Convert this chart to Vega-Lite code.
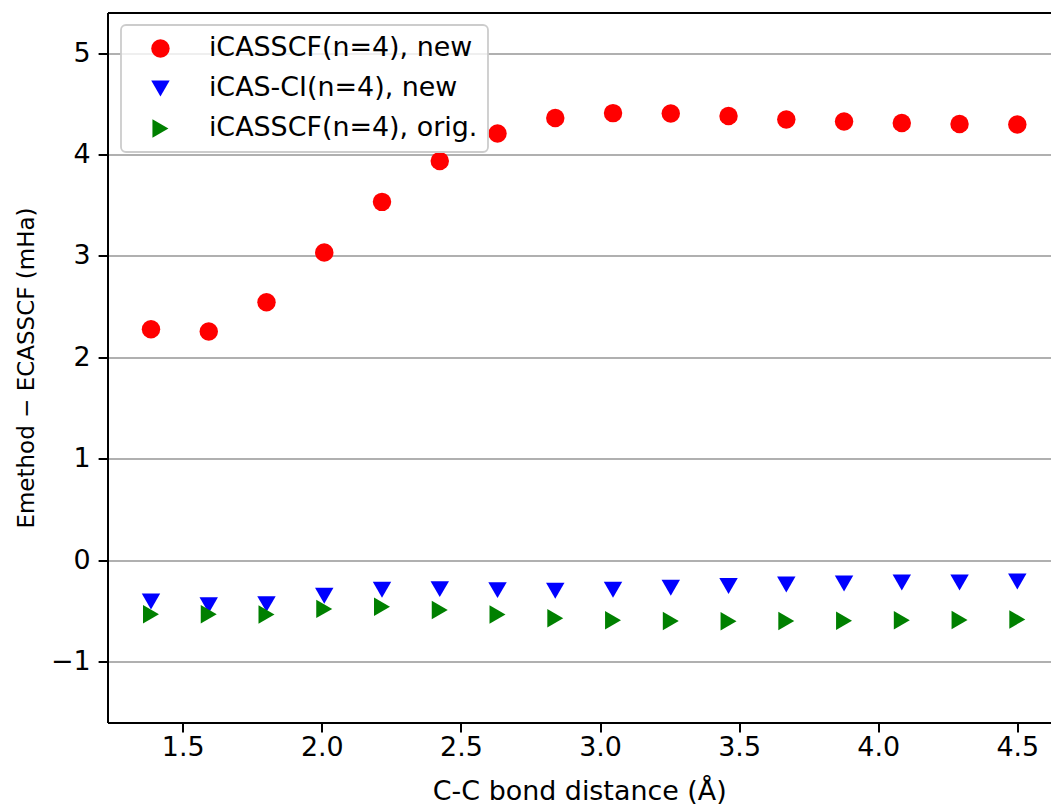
{
  "$schema": "https://vega.github.io/schema/vega-lite/v6.json",
  "width": 943.5,
  "height": 710,
  "autosize": {"type": "none"},
  "padding": {"left": 107.5, "top": 12.5, "right": 0, "bottom": 85.5},
  "background": "white",
  "config": {
    "view": {"stroke": null},
    "font": "DejaVu Sans",
    "axis": {
      "labelFont": "DejaVu Sans",
      "titleFont": "DejaVu Sans",
      "labelFontSize": 26.9,
      "titleFontSize": 26.9,
      "titleFontWeight": "normal",
      "labelColor": "black",
      "titleColor": "black",
      "domainColor": "black",
      "domainWidth": 2,
      "tickColor": "black",
      "tickWidth": 2,
      "tickSize": 9.4
    }
  },
  "data": {
    "values": [
      {"d": 1.386, "e": 2.278, "s": "iCASSCF(n=4), new"},
      {"d": 1.5936, "e": 2.254, "s": "iCASSCF(n=4), new"},
      {"d": 1.8012, "e": 2.544, "s": "iCASSCF(n=4), new"},
      {"d": 2.0088, "e": 3.033, "s": "iCASSCF(n=4), new"},
      {"d": 2.2164, "e": 3.533, "s": "iCASSCF(n=4), new"},
      {"d": 2.424, "e": 3.935, "s": "iCASSCF(n=4), new"},
      {"d": 2.6316, "e": 4.207, "s": "iCASSCF(n=4), new"},
      {"d": 2.8392, "e": 4.359, "s": "iCASSCF(n=4), new"},
      {"d": 3.0468, "e": 4.408, "s": "iCASSCF(n=4), new"},
      {"d": 3.2544, "e": 4.404, "s": "iCASSCF(n=4), new"},
      {"d": 3.462, "e": 4.379, "s": "iCASSCF(n=4), new"},
      {"d": 3.6696, "e": 4.345, "s": "iCASSCF(n=4), new"},
      {"d": 3.8772, "e": 4.325, "s": "iCASSCF(n=4), new"},
      {"d": 4.0848, "e": 4.31, "s": "iCASSCF(n=4), new"},
      {"d": 4.2924, "e": 4.3, "s": "iCASSCF(n=4), new"},
      {"d": 4.5, "e": 4.296, "s": "iCASSCF(n=4), new"},
      {"d": 1.386, "e": -0.406, "s": "iCAS-CI(n=4), new"},
      {"d": 1.5936, "e": -0.443, "s": "iCAS-CI(n=4), new"},
      {"d": 1.8012, "e": -0.433, "s": "iCAS-CI(n=4), new"},
      {"d": 2.0088, "e": -0.35, "s": "iCAS-CI(n=4), new"},
      {"d": 2.2164, "e": -0.291, "s": "iCAS-CI(n=4), new"},
      {"d": 2.424, "e": -0.285, "s": "iCAS-CI(n=4), new"},
      {"d": 2.6316, "e": -0.295, "s": "iCAS-CI(n=4), new"},
      {"d": 2.8392, "e": -0.301, "s": "iCAS-CI(n=4), new"},
      {"d": 3.0468, "e": -0.291, "s": "iCAS-CI(n=4), new"},
      {"d": 3.2544, "e": -0.271, "s": "iCAS-CI(n=4), new"},
      {"d": 3.462, "e": -0.255, "s": "iCAS-CI(n=4), new"},
      {"d": 3.6696, "e": -0.239, "s": "iCAS-CI(n=4), new"},
      {"d": 3.8772, "e": -0.229, "s": "iCAS-CI(n=4), new"},
      {"d": 4.0848, "e": -0.219, "s": "iCAS-CI(n=4), new"},
      {"d": 4.2924, "e": -0.219, "s": "iCAS-CI(n=4), new"},
      {"d": 4.5, "e": -0.209, "s": "iCAS-CI(n=4), new"},
      {"d": 1.386, "e": -0.532, "s": "iCASSCF(n=4), orig."},
      {"d": 1.5936, "e": -0.533, "s": "iCASSCF(n=4), orig."},
      {"d": 1.8012, "e": -0.536, "s": "iCASSCF(n=4), orig."},
      {"d": 2.0088, "e": -0.48, "s": "iCASSCF(n=4), orig."},
      {"d": 2.2164, "e": -0.458, "s": "iCASSCF(n=4), orig."},
      {"d": 2.424, "e": -0.49, "s": "iCASSCF(n=4), orig."},
      {"d": 2.6316, "e": -0.536, "s": "iCASSCF(n=4), orig."},
      {"d": 2.8392, "e": -0.572, "s": "iCASSCF(n=4), orig."},
      {"d": 3.0468, "e": -0.591, "s": "iCASSCF(n=4), orig."},
      {"d": 3.2544, "e": -0.599, "s": "iCASSCF(n=4), orig."},
      {"d": 3.462, "e": -0.601, "s": "iCASSCF(n=4), orig."},
      {"d": 3.6696, "e": -0.599, "s": "iCASSCF(n=4), orig."},
      {"d": 3.8772, "e": -0.597, "s": "iCASSCF(n=4), orig."},
      {"d": 4.0848, "e": -0.592, "s": "iCASSCF(n=4), orig."},
      {"d": 4.2924, "e": -0.589, "s": "iCASSCF(n=4), orig."},
      {"d": 4.5, "e": -0.584, "s": "iCASSCF(n=4), orig."}
    ]
  },
  "layer": [
    {
      "mark": {"type": "point", "filled": true, "opacity": 1, "size": 340, "strokeWidth": 0},
      "encoding": {
        "x": {
          "field": "d", "type": "quantitative",
          "scale": {"domain": [1.2297, 4.6211], "nice": false, "zero": false},
          "axis": {
            "orient": "bottom",
            "values": [1.5, 2.0, 2.5, 3.0, 3.5, 4.0, 4.5],
            "format": ".1f",
            "grid": false,
            "labelPadding": 3,
            "title": "C-C bond distance (Å)",
            "titlePadding": 18
          }
        },
        "y": {
          "field": "e", "type": "quantitative",
          "scale": {"domain": [-1.6, 5.4], "nice": false, "zero": false},
          "axis": {
            "values": [-1, 0, 1, 2, 3, 4, 5],
            "format": "d",
            "grid": true,
            "gridColor": "#b0b0b0",
            "gridWidth": 1.8,
            "labelPadding": 8,
            "title": "Emethod − ECASSCF (mHa)",
            "titleFontSize": 23,
            "titlePadding": 12
          }
        },
        "color": {
          "field": "s", "type": "nominal",
          "scale": {
            "domain": ["iCASSCF(n=4), new", "iCAS-CI(n=4), new", "iCASSCF(n=4), orig."],
            "range": ["#ff0000", "#0000ff", "#008000"]
          },
          "legend": {
            "title": null,
            "orient": "none",
            "legendX": 13.5,
            "legendY": 12.5,
            "fillColor": "rgba(255,255,255,0.8)",
            "strokeColor": "#cccccc",
            "cornerRadius": 5,
            "padding": 10,
            "labelFont": "DejaVu Sans",
            "labelFontSize": 26.9,
            "labelLimit": 0,
            "labelColor": "black",
            "symbolSize": 340,
            "symbolStrokeWidth": 0,
            "symbolOpacity": 1,
            "rowPadding": 12,
            "symbolOffset": 16,
            "labelOffset": 35,
            "encode": {"legend": {"update": {"strokeWidth": {"value": 1.8}}}}
          }
        },
        "shape": {
          "field": "s", "type": "nominal",
          "scale": {
            "domain": ["iCASSCF(n=4), new", "iCAS-CI(n=4), new", "iCASSCF(n=4), orig."],
            "range": ["circle", "triangle-down", "triangle-right"]
          }
        }
      }
    },
    {
      "mark": {"type": "point", "opacity": 0},
      "encoding": {
        "x": {
          "field": "d", "type": "quantitative",
          "axis": {"orient": "top", "labels": false, "ticks": false, "grid": false, "title": null, "domain": true}
        }
      }
    }
  ],
  "resolve": {"axis": {"x": "independent"}}
}
